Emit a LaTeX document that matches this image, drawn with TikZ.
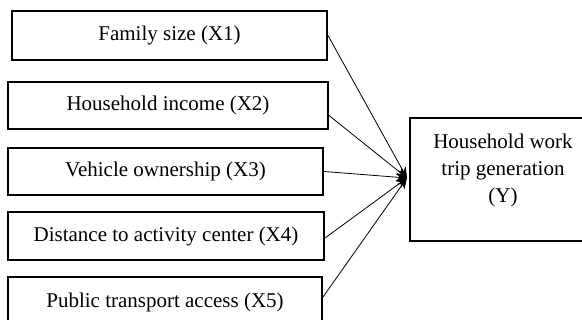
\documentclass[tikz,border=0pt]{standalone}
\usepackage{fontspec}
\setmainfont{Liberation Serif}
\usetikzlibrary{arrows.meta}
\begin{document}
\begin{tikzpicture}[x=1pt,y=-1pt,
  box/.style={draw=black, line width=2pt, rectangle, inner sep=0pt, font=\fontsize{21}{27}\selectfont},
  txt/.style={inner sep=0pt, align=center, font=\fontsize{21}{27}\selectfont},
  link/.style={line width=0.8pt, -{Stealth[length=11pt,width=9pt]}}]
\clip (0,0) rectangle (582,320);
\fill[white] (0,0) rectangle (582,320);
\node[box, minimum width=315pt, minimum height=49pt] (b1) at (169.5,35.5) {Family size (X1)};
\node[box, minimum width=320pt, minimum height=47pt] (b2) at (168,105.5) {Household income (X2)};
\node[box, minimum width=315pt, minimum height=47pt] (b3) at (165.5,171.5) {Vehicle ownership (X3)};
\node[box, minimum width=316pt, minimum height=48pt] (b4) at (166,236) {Distance to activity center (X4)};
\node[box, minimum width=314pt, minimum height=50pt] (b5) at (165,302) {Public transport access (X5)};
\node[box, minimum width=200pt, minimum height=123pt] (y) at (510,179.5) {};
\node[txt] (ytext) at (503,170) {Household work\\trip generation\\(Y)};
\coordinate (tip) at (407,178);
\draw[link] (b1.east) -- (tip);
\draw[link] ([yshift=-10pt]b2.east) -- (tip);
\draw[link] (b3.east) -- (tip);
\draw[link] ([yshift=-2pt]b4.east) -- (tip);
\draw[link] ([yshift=5pt]b5.east) -- (tip);
\end{tikzpicture}
\end{document}
